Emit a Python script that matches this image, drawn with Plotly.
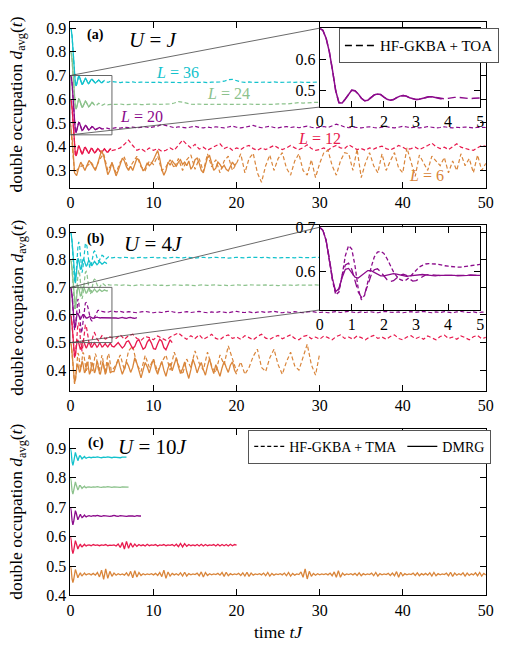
import numpy as np
import plotly.graph_objects as go

W, H = 509, 660
FONT = "Liberation Serif"

# ---------------- colours per system size ----------------
sizes = [36, 24, 20, 12, 6]
colors = {36: "#12c2cc", 24: "#8cc28c", 20: "#8b0a8b", 12: "#e8194d", 6: "#d9853a"}

# ================= panel (a): U = J =================
# early transient sampled every 0.1 (t = 0 ... 5), late part every 0.5 (t = 5.5 ...)
a_dt_early, a_dt_late = 0.1, 0.5
a_early = {
    36: [0.900, 0.893, 0.866, 0.822, 0.762, 0.700, 0.662, 0.656, 0.668, 0.688, 0.698, 0.694, 0.682, 0.668, 0.662, 0.666, 0.676,
         0.686, 0.688, 0.684, 0.675, 0.668, 0.666, 0.670, 0.677, 0.683, 0.684, 0.680, 0.674, 0.669, 0.668, 0.671, 0.676, 0.680,
         0.681, 0.678, 0.673, 0.670, 0.670, 0.673, 0.677, 0.679, 0.678, 0.675, 0.672, 0.671, 0.672, 0.675, 0.677, 0.677, 0.675],
    24: [0.800, 0.793, 0.767, 0.723, 0.664, 0.603, 0.565, 0.558, 0.570, 0.590, 0.601, 0.598, 0.586, 0.572, 0.565, 0.569, 0.579,
         0.589, 0.592, 0.588, 0.579, 0.571, 0.568, 0.571, 0.578, 0.585, 0.587, 0.584, 0.578, 0.573, 0.571, 0.573, 0.578, 0.582,
         0.583, 0.581, 0.577, 0.574, 0.574, 0.576, 0.579, 0.581, 0.581, 0.579, 0.577, 0.576, 0.577, 0.578, 0.580, 0.580, 0.579],
    20: [0.700, 0.693, 0.668, 0.625, 0.565, 0.500, 0.462, 0.461, 0.474, 0.490, 0.502, 0.500, 0.490, 0.476, 0.468, 0.470, 0.478,
         0.487, 0.490, 0.488, 0.480, 0.473, 0.470, 0.472, 0.478, 0.483, 0.485, 0.483, 0.478, 0.474, 0.472, 0.473, 0.476, 0.479,
         0.481, 0.481, 0.479, 0.476, 0.474, 0.474, 0.476, 0.478, 0.479, 0.479, 0.478, 0.476, 0.475, 0.475, 0.476, 0.477, 0.477],
    12: [0.600, 0.592, 0.565, 0.520, 0.460, 0.400, 0.366, 0.362, 0.376, 0.396, 0.404, 0.398, 0.384, 0.372, 0.368, 0.374, 0.386,
         0.396, 0.397, 0.390, 0.380, 0.373, 0.372, 0.378, 0.387, 0.393, 0.392, 0.386, 0.378, 0.374, 0.376, 0.382, 0.389, 0.392,
         0.389, 0.383, 0.377, 0.375, 0.378, 0.384, 0.390, 0.391, 0.387, 0.381, 0.377, 0.377, 0.381, 0.387, 0.391, 0.389, 0.384],
}
a_late = {
    36: [0.672, 0.670, 0.673, 0.671, 0.673, 0.670, 0.672, 0.671, 0.673, 0.671, 0.672, 0.670, 0.672, 0.671, 0.673, 0.671, 0.670,
         0.672, 0.671, 0.673, 0.671, 0.672, 0.670, 0.672, 0.671, 0.673, 0.676, 0.682, 0.684, 0.678, 0.673, 0.671, 0.673, 0.671,
         0.672, 0.670, 0.672, 0.671, 0.673, 0.671, 0.672, 0.670, 0.672, 0.671, 0.673, 0.671, 0.672, 0.671, 0.673, 0.672],
    24: [0.578, 0.580, 0.577, 0.579, 0.578, 0.580, 0.577, 0.579, 0.578, 0.580, 0.578, 0.579, 0.577, 0.580, 0.584, 0.590, 0.588,
         0.582, 0.579, 0.578, 0.580, 0.578, 0.579, 0.577, 0.579, 0.578, 0.580, 0.578, 0.579, 0.577, 0.579, 0.578, 0.580, 0.578,
         0.579, 0.581, 0.579, 0.578, 0.580, 0.579, 0.581, 0.580, 0.582, 0.584, 0.586, 0.584, 0.586, 0.585, 0.587, 0.586],
    20: [0.480, 0.478, 0.482, 0.480, 0.483, 0.479, 0.481, 0.484, 0.480, 0.483, 0.487, 0.494, 0.490, 0.483, 0.480, 0.484, 0.481,
         0.479, 0.483, 0.486, 0.481, 0.479, 0.483, 0.480, 0.484, 0.481, 0.479, 0.483, 0.487, 0.482, 0.479, 0.482, 0.486, 0.490,
         0.484, 0.480, 0.483, 0.486, 0.481, 0.479, 0.483, 0.485, 0.481, 0.484, 0.480, 0.483, 0.487, 0.482, 0.479, 0.482, 0.485,
         0.481, 0.488, 0.495, 0.490, 0.483, 0.480, 0.483, 0.481, 0.479, 0.482, 0.484, 0.481, 0.479, 0.482, 0.485, 0.481, 0.479,
         0.482, 0.486, 0.483, 0.480, 0.482, 0.479, 0.481, 0.485, 0.482, 0.479, 0.481, 0.484, 0.481, 0.479, 0.482, 0.480, 0.483,
         0.481, 0.479, 0.482, 0.480, 0.481],
    12: [0.388, 0.395, 0.410, 0.428, 0.405, 0.385, 0.392, 0.380, 0.395, 0.385, 0.392, 0.380, 0.385, 0.395, 0.385, 0.405, 0.428,
         0.410, 0.395, 0.410, 0.390, 0.398, 0.385, 0.395, 0.405, 0.412, 0.392, 0.400, 0.385, 0.395, 0.388, 0.400, 0.405, 0.392,
         0.385, 0.395, 0.388, 0.398, 0.405, 0.395, 0.388, 0.395, 0.405, 0.395, 0.388, 0.396, 0.408, 0.392, 0.385, 0.388, 0.395,
         0.385, 0.398, 0.405, 0.395, 0.392, 0.408, 0.398, 0.388, 0.392, 0.385, 0.395, 0.390, 0.398, 0.402, 0.392, 0.386, 0.395,
         0.405, 0.398, 0.388, 0.392, 0.398, 0.388, 0.395, 0.405, 0.415, 0.400, 0.392, 0.398, 0.388, 0.402, 0.412, 0.398, 0.392,
         0.388, 0.385, 0.395, 0.405, 0.402],
}
a_dmrg_end = {36: 4.0, 24: 2.8, 20: 3.8, 12: 4.9}
# L = 6: DMRG (dt 0.25, t = 0..20) and HF-GKBA (dt 0.5, t = 0..50)
a_L6_dmrg_dt = 0.25
a_L6_dmrg = [0.500, 0.420, 0.290, 0.278, 0.310, 0.335, 0.318, 0.300, 0.322, 0.342, 0.330, 0.312, 0.300, 0.325, 0.360, 0.384,
             0.362, 0.315, 0.282, 0.300, 0.335, 0.305, 0.277, 0.300, 0.330, 0.352, 0.340, 0.315, 0.300, 0.318, 0.300, 0.325,
             0.350, 0.345, 0.318, 0.298, 0.310, 0.332, 0.320, 0.330, 0.345, 0.365, 0.384, 0.350, 0.305, 0.280, 0.300, 0.335,
             0.322, 0.340, 0.328, 0.318, 0.335, 0.345, 0.325, 0.335, 0.320, 0.340, 0.305, 0.318, 0.345, 0.352, 0.330, 0.300,
             0.290, 0.320, 0.355, 0.362, 0.330, 0.300, 0.310, 0.335, 0.325, 0.310, 0.322, 0.305, 0.298, 0.318, 0.335, 0.322, 0.330]
a_L6_hf_dt = 0.5
a_L6_hf = [0.500, 0.290, 0.310, 0.322, 0.318, 0.335, 0.305, 0.345, 0.370, 0.300, 0.330, 0.290, 0.335, 0.355, 0.305, 0.330,
           0.360, 0.315, 0.300, 0.340, 0.325, 0.360, 0.300, 0.315, 0.345, 0.310, 0.350, 0.300, 0.345, 0.365, 0.305, 0.350,
           0.295, 0.370, 0.315, 0.345, 0.290, 0.340, 0.360, 0.300, 0.330, 0.370, 0.290, 0.350, 0.372, 0.290, 0.250, 0.320,
           0.365, 0.300, 0.350, 0.375, 0.310, 0.280, 0.340, 0.370, 0.300, 0.280, 0.345, 0.270, 0.330, 0.375, 0.385, 0.320,
           0.280, 0.340, 0.375, 0.370, 0.300, 0.390, 0.270, 0.330, 0.375, 0.320, 0.290, 0.370, 0.300, 0.340, 0.375, 0.310,
           0.290, 0.395, 0.330, 0.275, 0.365, 0.330, 0.300, 0.360, 0.340, 0.320, 0.355, 0.290, 0.340, 0.300, 0.370, 0.320,
           0.350, 0.290, 0.365, 0.300, 0.330]

# ================= panel (b): U = 4J =================
b_dt_early, b_dt_late = 0.1, 0.5
b_hf_early = {
    36: [0.900, 0.892, 0.866, 0.820, 0.762, 0.718, 0.715, 0.748, 0.800, 0.845, 0.865, 0.855, 0.815, 0.770, 0.753, 0.768, 0.805,
         0.840, 0.858, 0.860, 0.848, 0.822, 0.795, 0.775, 0.770, 0.778, 0.795, 0.815, 0.828, 0.832, 0.828, 0.818, 0.806, 0.798,
         0.795, 0.798, 0.805, 0.812, 0.816, 0.815, 0.811, 0.806, 0.803, 0.803, 0.806, 0.809, 0.811, 0.810, 0.808, 0.806, 0.807],
    24: [0.800, 0.792, 0.767, 0.722, 0.666, 0.624, 0.622, 0.652, 0.700, 0.742, 0.762, 0.754, 0.718, 0.676, 0.658, 0.670, 0.703,
         0.736, 0.755, 0.758, 0.747, 0.724, 0.700, 0.682, 0.676, 0.682, 0.697, 0.714, 0.726, 0.730, 0.727, 0.718, 0.708, 0.700,
         0.697, 0.699, 0.705, 0.711, 0.715, 0.714, 0.711, 0.707, 0.704, 0.704, 0.706, 0.709, 0.710, 0.709, 0.708, 0.707, 0.708],
    20: [0.700, 0.693, 0.670, 0.628, 0.578, 0.546, 0.552, 0.590, 0.635, 0.658, 0.650, 0.612, 0.560, 0.534, 0.545, 0.575, 0.608,
         0.632, 0.643, 0.645, 0.640, 0.628, 0.612, 0.598, 0.588, 0.581, 0.578, 0.580, 0.586, 0.594, 0.602, 0.609, 0.613, 0.616,
         0.617, 0.617, 0.616, 0.615, 0.613, 0.612, 0.611, 0.610, 0.609, 0.609, 0.609, 0.610, 0.611, 0.612, 0.613, 0.614, 0.615],
    12: [0.600, 0.592, 0.566, 0.522, 0.472, 0.445, 0.452, 0.490, 0.535, 0.565, 0.572, 0.555, 0.512, 0.475, 0.468, 0.488, 0.522,
         0.550, 0.563, 0.562, 0.548, 0.526, 0.505, 0.492, 0.488, 0.494, 0.508, 0.523, 0.533, 0.536, 0.531, 0.522, 0.513, 0.507,
         0.506, 0.510, 0.516, 0.522, 0.525, 0.523, 0.519, 0.515, 0.513, 0.514, 0.517, 0.520, 0.522, 0.521, 0.519, 0.517, 0.518],
    6: [0.500, 0.490, 0.462, 0.418, 0.372, 0.350, 0.362, 0.400, 0.440, 0.462, 0.455, 0.428, 0.405, 0.410, 0.440, 0.465, 0.460,
        0.435, 0.410, 0.398, 0.405, 0.430, 0.452, 0.458, 0.440, 0.415, 0.398, 0.400, 0.420, 0.445, 0.460, 0.452, 0.428, 0.405,
        0.395, 0.402, 0.425, 0.448, 0.455, 0.440, 0.415, 0.398, 0.395, 0.410, 0.435, 0.455, 0.460, 0.445, 0.420, 0.400, 0.398],
}
b_hf_late = {
    36: [0.809, 0.807, 0.809, 0.808, 0.806, 0.808, 0.809, 0.807, 0.808, 0.809, 0.807, 0.808, 0.806, 0.808, 0.809, 0.808, 0.807,
         0.809, 0.808, 0.806, 0.808, 0.809, 0.807, 0.808, 0.809, 0.807, 0.808, 0.806, 0.808, 0.809, 0.808, 0.807, 0.809, 0.808,
         0.807, 0.808, 0.809, 0.807, 0.808, 0.806, 0.808, 0.809, 0.808, 0.807, 0.809, 0.808, 0.807, 0.808, 0.809, 0.808],
    24: [0.709, 0.707, 0.709, 0.708, 0.706, 0.708, 0.709, 0.707, 0.708, 0.709, 0.707, 0.708, 0.706, 0.708, 0.709, 0.708, 0.707,
         0.709, 0.708, 0.706, 0.708, 0.709, 0.707, 0.708, 0.709, 0.707, 0.708, 0.706, 0.708, 0.709, 0.708, 0.707, 0.709, 0.708,
         0.707, 0.708, 0.709, 0.707, 0.708, 0.706, 0.708, 0.709, 0.708, 0.707, 0.709, 0.708, 0.707, 0.708, 0.709, 0.708],
    20: [0.611, 0.613, 0.609, 0.612, 0.610, 0.608, 0.611, 0.613, 0.610, 0.608, 0.611, 0.609, 0.612, 0.614, 0.610, 0.608, 0.610,
         0.612, 0.609, 0.611, 0.613, 0.610, 0.608, 0.611, 0.609, 0.612, 0.610, 0.608, 0.611, 0.613, 0.610, 0.609, 0.611, 0.608,
         0.610, 0.612, 0.609, 0.611, 0.613, 0.610, 0.608, 0.611, 0.609, 0.612, 0.610, 0.608, 0.611, 0.613, 0.610, 0.609, 0.611,
         0.608, 0.610, 0.612, 0.609, 0.611, 0.613, 0.610, 0.608, 0.611, 0.609, 0.612, 0.610, 0.608, 0.611, 0.613, 0.610, 0.609,
         0.611, 0.608, 0.610, 0.612, 0.609, 0.611, 0.613, 0.610, 0.608, 0.611, 0.609, 0.612, 0.610, 0.608, 0.611, 0.613, 0.610,
         0.609, 0.611, 0.608, 0.610, 0.611],
    12: [0.515, 0.528, 0.512, 0.525, 0.530, 0.515, 0.508, 0.522, 0.518, 0.510, 0.524, 0.515, 0.508, 0.520, 0.528, 0.535, 0.522,
         0.512, 0.525, 0.515, 0.528, 0.512, 0.520, 0.530, 0.515, 0.510, 0.522, 0.528, 0.515, 0.520, 0.512, 0.525, 0.518, 0.510,
         0.522, 0.530, 0.516, 0.512, 0.520, 0.526, 0.514, 0.520, 0.528, 0.515, 0.510, 0.522, 0.526, 0.514, 0.520, 0.512, 0.524,
         0.518, 0.510, 0.522, 0.528, 0.515, 0.520, 0.512, 0.524, 0.518, 0.510, 0.520, 0.526, 0.515, 0.520, 0.512, 0.522, 0.528,
         0.515, 0.510, 0.520, 0.525, 0.514, 0.520, 0.512, 0.524, 0.518, 0.510, 0.522, 0.527, 0.515, 0.520, 0.512, 0.524, 0.518,
         0.510, 0.521, 0.526, 0.514, 0.519],
    6: [0.420, 0.455, 0.400, 0.470, 0.488, 0.420, 0.395, 0.453, 0.410, 0.440, 0.395, 0.430, 0.455, 0.400, 0.465, 0.420, 0.385,
        0.440, 0.410, 0.470, 0.425, 0.400, 0.465, 0.415, 0.392, 0.455, 0.420, 0.488, 0.440, 0.395, 0.430, 0.385, 0.410, 0.450,
        0.476, 0.410, 0.395, 0.445, 0.476, 0.420, 0.385, 0.430, 0.465, 0.415, 0.400, 0.445, 0.494, 0.420, 0.382, 0.460],
}
b_dmrg_early = {
    36: [0.900, 0.892, 0.866, 0.822, 0.768, 0.722, 0.715, 0.745, 0.785, 0.805, 0.800, 0.780, 0.765, 0.768, 0.785, 0.800, 0.803,
         0.795, 0.782, 0.776, 0.780, 0.790, 0.797, 0.795, 0.787, 0.780, 0.779, 0.785, 0.792, 0.794, 0.790, 0.784, 0.782, 0.785,
         0.790, 0.793, 0.791, 0.786, 0.784, 0.786, 0.790, 0.792, 0.790, 0.787, 0.786],
    24: [0.800, 0.792, 0.767, 0.724, 0.671, 0.628, 0.622, 0.650, 0.687, 0.705, 0.700, 0.682, 0.668, 0.671, 0.686, 0.700, 0.702,
         0.694, 0.683, 0.678, 0.682, 0.691, 0.697, 0.695, 0.688, 0.682, 0.681, 0.686, 0.692, 0.694, 0.690, 0.685, 0.683, 0.686,
         0.690, 0.692, 0.690, 0.686, 0.685, 0.687, 0.690, 0.691, 0.689, 0.687, 0.687, 0.689],
    20: [0.700, 0.693, 0.670, 0.630, 0.582, 0.553, 0.560, 0.585, 0.604, 0.606, 0.596, 0.586, 0.584, 0.590, 0.597, 0.601, 0.601,
         0.597, 0.592, 0.589, 0.589, 0.591, 0.593, 0.594, 0.593, 0.591, 0.589, 0.588, 0.589, 0.590, 0.591, 0.592, 0.592, 0.591,
         0.590, 0.589, 0.589, 0.590, 0.590, 0.591, 0.591, 0.590, 0.590, 0.589, 0.589, 0.590, 0.590, 0.591, 0.590, 0.590, 0.590],
    12: [0.600, 0.592, 0.566, 0.524, 0.476, 0.448, 0.455, 0.482, 0.505, 0.510, 0.498, 0.482, 0.475, 0.482, 0.496, 0.506, 0.504,
         0.494, 0.484, 0.480, 0.485, 0.495, 0.501, 0.498, 0.490, 0.484, 0.484, 0.490, 0.497, 0.499, 0.494, 0.487, 0.483, 0.486,
         0.493, 0.498, 0.496, 0.489, 0.484, 0.485, 0.491, 0.497, 0.497, 0.491, 0.485, 0.484, 0.489, 0.496, 0.498, 0.493, 0.487],
    6: [0.500, 0.490, 0.462, 0.420, 0.378, 0.355, 0.365, 0.395, 0.418, 0.420, 0.405, 0.392, 0.398, 0.418, 0.432, 0.425, 0.405,
        0.390, 0.395, 0.415, 0.430, 0.422, 0.400, 0.385, 0.392, 0.412, 0.428, 0.420, 0.402, 0.390, 0.398, 0.418, 0.432, 0.425,
        0.405, 0.388, 0.385, 0.400, 0.420, 0.430, 0.418, 0.398, 0.385, 0.392, 0.412, 0.428, 0.422, 0.404, 0.390, 0.393, 0.395],
}
# DMRG continuation after t = 5 (dt 0.25, starting t = 5.25)
b_dmrg_dt_late = 0.25
b_dmrg_late = {
    20: [0.590, 0.589, 0.588, 0.590, 0.591, 0.589, 0.588, 0.590, 0.591, 0.589, 0.588, 0.590],
    12: [0.484, 0.494, 0.500, 0.490, 0.480, 0.488, 0.503, 0.506, 0.492, 0.478, 0.486, 0.505, 0.510, 0.494, 0.476, 0.482, 0.502,
         0.512, 0.498, 0.478, 0.476, 0.496, 0.512, 0.505, 0.482, 0.474, 0.492, 0.510, 0.500],
    6: [0.395, 0.420, 0.440, 0.410, 0.385, 0.405, 0.430, 0.415, 0.392, 0.410, 0.445, 0.425, 0.395, 0.372, 0.400, 0.428, 0.412,
        0.390, 0.418, 0.440, 0.405, 0.385, 0.410, 0.432, 0.400, 0.378, 0.408, 0.425, 0.398, 0.420, 0.445, 0.412, 0.388, 0.405,
        0.430, 0.395, 0.370, 0.402, 0.440, 0.418, 0.390, 0.412, 0.428, 0.402, 0.382, 0.415, 0.442, 0.410, 0.388, 0.420, 0.400,
        0.378, 0.408, 0.432, 0.410, 0.392, 0.418, 0.430, 0.400, 0.385],
}
# HF-GKBA + TOA (inset of panel b, L = 20)
b_toa_L20 = [0.700, 0.693, 0.670, 0.630, 0.580, 0.550, 0.558, 0.590, 0.614, 0.618, 0.604, 0.578, 0.552, 0.540, 0.548, 0.568,
             0.590, 0.603, 0.605, 0.598, 0.588, 0.580, 0.576, 0.578, 0.584, 0.590, 0.593, 0.590, 0.582, 0.577, 0.578, 0.583,
             0.588, 0.591, 0.592, 0.591, 0.590, 0.589, 0.589, 0.590, 0.590, 0.591, 0.591, 0.590, 0.590, 0.590, 0.590, 0.590,
             0.590, 0.590, 0.590]

# ================= panel (c): U = 10J (DMRG) =================
c_dt_early, c_dt_late = 0.1, 0.25   # early t = 0..2, late from t = 2.25
c_early = {
    36: [0.900, 0.885, 0.855, 0.842, 0.855, 0.878, 0.886, 0.876, 0.860, 0.858, 0.866, 0.874, 0.874, 0.867, 0.864, 0.867, 0.872,
         0.872, 0.868, 0.866, 0.868],
    24: [0.800, 0.786, 0.756, 0.744, 0.757, 0.778, 0.786, 0.776, 0.760, 0.758, 0.765, 0.773, 0.773, 0.766, 0.764, 0.767, 0.771,
         0.771, 0.767, 0.766, 0.768],
    20: [0.700, 0.686, 0.655, 0.640, 0.652, 0.676, 0.688, 0.680, 0.662, 0.657, 0.664, 0.674, 0.676, 0.669, 0.665, 0.667, 0.672,
         0.673, 0.669, 0.667, 0.669],
    12: [0.600, 0.586, 0.556, 0.542, 0.553, 0.576, 0.586, 0.578, 0.562, 0.558, 0.565, 0.574, 0.575, 0.568, 0.565, 0.568, 0.573,
         0.574, 0.570, 0.568, 0.570],
    6: [0.500, 0.486, 0.456, 0.444, 0.455, 0.478, 0.488, 0.480, 0.464, 0.460, 0.467, 0.476, 0.477, 0.470, 0.467, 0.470, 0.475,
        0.476, 0.472, 0.470, 0.472],
}
c_late = {
    36: [0.870, 0.868, 0.870, 0.869, 0.871, 0.869, 0.868, 0.870, 0.869, 0.871, 0.869, 0.868, 0.870, 0.869, 0.870, 0.868, 0.870,
         0.869, 0.870],
    24: [0.769, 0.767, 0.769, 0.768, 0.770, 0.768, 0.767, 0.769, 0.768, 0.770, 0.768, 0.767, 0.769, 0.768, 0.769, 0.767, 0.769,
         0.768, 0.769, 0.768],
    20: [0.671, 0.669, 0.671, 0.670, 0.672, 0.670, 0.669, 0.671, 0.670, 0.671, 0.669, 0.670, 0.672, 0.670, 0.669, 0.671, 0.670,
         0.671, 0.669, 0.670, 0.671, 0.670, 0.669, 0.671, 0.670, 0.670],
    12: [0.572, 0.569, 0.573, 0.570, 0.572, 0.569, 0.572, 0.570, 0.573, 0.569, 0.571, 0.570, 0.572, 0.568, 0.575, 0.563, 0.580,
         0.558, 0.584, 0.560, 0.578, 0.564, 0.575, 0.567, 0.573, 0.569, 0.572, 0.568, 0.574, 0.569, 0.572, 0.570, 0.573, 0.568,
         0.572, 0.570, 0.573, 0.569, 0.572, 0.570, 0.573, 0.568, 0.574, 0.566, 0.577, 0.565, 0.576, 0.567, 0.573, 0.569, 0.572,
         0.569, 0.573, 0.568, 0.574, 0.568, 0.573, 0.569, 0.572, 0.570, 0.573, 0.568, 0.574, 0.568, 0.573, 0.569, 0.573, 0.568,
         0.574, 0.569, 0.573, 0.571],
    6: [0.474, 0.470, 0.475, 0.469, 0.478, 0.463, 0.486, 0.455, 0.490, 0.458, 0.482, 0.465, 0.476, 0.469, 0.474, 0.470,
        0.473, 0.469, 0.477, 0.466, 0.482, 0.460, 0.484, 0.463, 0.478, 0.468, 0.474, 0.470, 0.473, 0.471, 0.474, 0.470,
        0.475, 0.468, 0.478, 0.464, 0.486, 0.458, 0.480, 0.466, 0.475, 0.470, 0.474, 0.469, 0.477, 0.466, 0.479, 0.466,
        0.474, 0.470, 0.473, 0.471, 0.476, 0.467, 0.480, 0.463, 0.478, 0.468, 0.474, 0.470, 0.473, 0.471, 0.475, 0.469,
        0.478, 0.465, 0.479, 0.467, 0.474, 0.470, 0.473, 0.471, 0.475, 0.468, 0.477, 0.466, 0.479, 0.465, 0.476, 0.469,
        0.473, 0.471, 0.474, 0.470, 0.476, 0.467, 0.478, 0.466, 0.475, 0.469, 0.473, 0.471, 0.474, 0.470, 0.476, 0.467,
        0.478, 0.466, 0.475, 0.469, 0.473, 0.471, 0.480, 0.462, 0.490, 0.456, 0.482, 0.465, 0.475, 0.469, 0.474, 0.470,
        0.473, 0.471, 0.474, 0.470, 0.476, 0.467, 0.480, 0.462, 0.484, 0.462, 0.476, 0.469, 0.473, 0.471, 0.474, 0.470,
        0.475, 0.468, 0.477, 0.467, 0.474, 0.470, 0.473, 0.471, 0.476, 0.467, 0.478, 0.466, 0.474, 0.470, 0.473, 0.471,
        0.475, 0.468, 0.476, 0.467, 0.481, 0.462, 0.479, 0.467, 0.474, 0.470, 0.473, 0.471, 0.476, 0.468, 0.477, 0.467,
        0.474, 0.470, 0.475, 0.469, 0.477, 0.466, 0.478, 0.467, 0.474, 0.470, 0.473, 0.471, 0.476, 0.467, 0.479, 0.465,
        0.476, 0.469, 0.474, 0.470, 0.477, 0.466, 0.476, 0.468, 0.474, 0.470, 0.477, 0.467, 0.478, 0.466, 0.475, 0.470],
}

# labels
a_size_labels = {36: (12.9, 0.714), 24: (19.0, 0.624), 20: (8.5, 0.526), 12: (30.0, 0.436), 6: (42.9, 0.277)}
panel_tags = ["(a)", "(b)", "(c)"]
panel_U = ["<i>U</i> = <i>J</i>", "<i>U</i> = 4<i>J</i>", "<i>U</i> = 10<i>J</i>"]
xticks = [0, 10, 20, 30, 40, 50]

# ---------------- layout geometry (pixels) ----------------
def px_x(a, b):
    return [a / W, b / W]

def px_y(top, bottom):
    return [1 - bottom / H, 1 - top / H]

PANEL_TOP = [14, 223, 432]
XD = px_x(68, 493.5)
YD = [px_y(14, 185), px_y(223, 393), px_y(432, 603)]
YR = [[0.225, 0.927], [0.325, 0.925], [0.4, 0.966]]
YT = [[0.3, 0.4, 0.5, 0.6, 0.7, 0.8, 0.9], [0.4, 0.5, 0.6, 0.7, 0.8, 0.9], [0.4, 0.5, 0.6, 0.7, 0.8, 0.9]]
IXD = px_x(323.3, 487.7)
IYD = [px_y(20.7, 101.7), px_y(225, 310)]
IYR = [[0.448, 0.700], [0.511, 0.700]]
IYT = [[0.5, 0.6], [0.6, 0.7]]
ZOOMBOX = [[0.45, 0.70], [0.50, 0.70]]

DASH = "4px,2.5px"
LDASH = "8px,4px"


def grid(n, t0, dt):
    return t0 + dt * np.arange(n)


fig = go.Figure()


def add(x, y, color, dash, xa, ya, width=1.2, **kw):
    fig.add_trace(go.Scatter(x=list(x), y=list(y), mode="lines", xaxis=xa, yaxis=ya,
                             line=dict(color=color, width=width, dash=dash),
                             showlegend=False, hoverinfo="skip", **kw))

# ---- panel (a)
for L in [36, 24, 20, 12]:
    te = grid(len(a_early[L]), 0.0, a_dt_early)
    tl = grid(len(a_late[L]), 5.5, a_dt_late)
    add(np.concatenate([te, tl]), a_early[L] + a_late[L], colors[L], DASH, "x", "y")
t6h = grid(len(a_L6_hf), 0.0, a_L6_hf_dt)
add(t6h, a_L6_hf, colors[6], DASH, "x", "y")
for L in [36, 24, 20, 12]:
    te = grid(len(a_early[L]), 0.0, a_dt_early)
    m = te <= a_dmrg_end[L] + 1e-9
    add(te[m], np.array(a_early[L])[m], colors[L], "solid", "x", "y", width=1.3)
add(grid(len(a_L6_dmrg), 0.0, a_L6_dmrg_dt), a_L6_dmrg, colors[6], "solid", "x", "y", width=1.3)

# ---- panel (b)
for L in sizes:
    te = grid(len(b_hf_early[L]), 0.0, b_dt_early)
    tl = grid(len(b_hf_late[L]), 5.5, b_dt_late)
    add(np.concatenate([te, tl]), b_hf_early[L] + b_hf_late[L], colors[L], DASH, "x2", "y2")
for L in sizes:
    te = grid(len(b_dmrg_early[L]), 0.0, b_dt_early)
    vals = list(b_dmrg_early[L])
    tt = list(te)
    if L in b_dmrg_late:
        tt += list(grid(len(b_dmrg_late[L]), 5.25, b_dmrg_dt_late))
        vals += b_dmrg_late[L]
    add(tt, vals, colors[L], "solid", "x2", "y2", width=1.3)

# ---- panel (c)
for L in sizes:
    te = grid(len(c_early[L]), 0.0, c_dt_early)
    tl = grid(len(c_late[L]), 2.25, c_dt_late)
    add(np.concatenate([te, tl]), c_early[L] + c_late[L], colors[L], "solid", "x3", "y3", width=1.3)

# ---- inset (a): L = 20
te = grid(len(a_early[20]), 0.0, a_dt_early)
m = te <= a_dmrg_end[20] + 1e-9
add(te, a_early[20], colors[20], LDASH, "x4", "y4", width=1.4)
add(te[m], np.array(a_early[20])[m], colors[20], "solid", "x4", "y4", width=1.5)

# ---- inset (b): L = 20
add(te, b_hf_early[20], colors[20], DASH, "x5", "y5", width=1.3)
add(grid(len(b_toa_L20), 0.0, b_dt_early), b_toa_L20, colors[20], LDASH, "x5", "y5", width=1.3)
add(te, b_dmrg_early[20], colors[20], "solid", "x5", "y5", width=1.3)

# ---- legend entries
fig.add_trace(go.Scatter(x=[None], y=[None], mode="lines", xaxis="x4", yaxis="y4", name="HF-GKBA + TOA",
                         line=dict(color="black", width=1.5, dash="7px,4px"), legend="legend"))
fig.add_trace(go.Scatter(x=[None], y=[None], mode="lines", xaxis="x3", yaxis="y3", name="HF-GKBA + TMA",
                         line=dict(color="black", width=1.3, dash="4px,2.5px"), legend="legend2"))
fig.add_trace(go.Scatter(x=[None], y=[None], mode="lines", xaxis="x3", yaxis="y3", name="DMRG",
                         line=dict(color="black", width=1.3), legend="legend2"))

tickfont = dict(family=FONT, size=16, color="black")
common = dict(showline=True, linecolor="black", linewidth=1, mirror="ticks", ticks="inside", ticklen=6,
              tickcolor="black", showgrid=False, zeroline=False, tickfont=tickfont)

layout = dict(width=W, height=H, margin=dict(l=0, r=0, t=0, b=0), paper_bgcolor="white", plot_bgcolor="white",
              font=dict(family=FONT, size=16, color="black"))
for i, ax in enumerate(["", "2", "3"]):
    layout["xaxis" + ax] = dict(domain=XD, range=[0, 50], anchor="y" + ax, tickvals=xticks, **common)
    layout["yaxis" + ax] = dict(domain=YD[i], range=YR[i], anchor="x" + ax, tickvals=YT[i],
                                ticktext=[f"{v:.1f}" for v in YT[i]], **common)
for j, ax in enumerate(["4", "5"]):
    layout["xaxis" + ax] = dict(domain=IXD, range=[0, 5], anchor="y" + ax, tickvals=[0, 1, 2, 3, 4, 5], **common)
    layout["yaxis" + ax] = dict(domain=IYD[j], range=IYR[j], anchor="x" + ax, tickvals=IYT[j],
                                ticktext=[f"{v:.1f}" for v in IYT[j]], **common)

layout["legend"] = dict(x=343 / W, y=1 - 20.7 / H, xanchor="left", yanchor="top", bgcolor="white",
                        bordercolor="#555", borderwidth=1, font=dict(family=FONT, size=15),
                        itemwidth=30, tracegroupgap=0)
layout["legend2"] = dict(x=499 / W, y=1 - 433 / H, xanchor="right", yanchor="top", orientation="h",
                         bgcolor="white", bordercolor="#555", borderwidth=1, font=dict(family=FONT, size=14),
                         itemwidth=30)
fig.update_layout(**layout)

# ---- zoom boxes and connectors
shapes = []
for k, (xa, ya) in enumerate([("x", "y"), ("x2", "y2")]):
    b0, b1 = ZOOMBOX[k]
    shapes.append(dict(type="rect", xref=xa, yref=ya, x0=0, x1=5, y0=b0, y1=b1,
                       line=dict(color="#666", width=1)))
    yd, yr = YD[k], YR[k]

    def py(v):
        return yd[0] + (v - yr[0]) / (yr[1] - yr[0]) * (yd[1] - yd[0])
    shapes.append(dict(type="line", xref="paper", yref="paper", x0=XD[0], y0=py(b1), x1=IXD[0], y1=IYD[k][1],
                       line=dict(color="#444", width=0.8)))
    shapes.append(dict(type="line", xref="paper", yref="paper", x0=XD[0], y0=py(b0), x1=IXD[0], y1=IYD[k][0],
                       line=dict(color="#444", width=0.8)))
fig.update_layout(shapes=shapes)

# ---- annotations
ann = []
for i, ax in enumerate(["", "2", "3"]):
    yd = YD[i]
    ann.append(dict(text="double occupation <i>d</i><sub>avg</sub>(<i>t</i>)", xref="paper", yref="paper",
                    x=14 / W, y=(yd[0] + yd[1]) / 2, textangle=-90, showarrow=False,
                    xanchor="center", yanchor="middle", font=dict(family=FONT, size=17.5)))
    top = PANEL_TOP[i]
    ann.append(dict(text="<b>" + panel_tags[i] + "</b>", xref="paper", yref="paper", x=94 / W,
                    y=1 - (top + 14) / H, showarrow=False, xanchor="center", yanchor="middle",
                    font=dict(family=FONT, size=14)))
    ann.append(dict(text=panel_U[i], xref="paper", yref="paper", x=153 / W, y=1 - (top + 19) / H,
                    showarrow=False, xanchor="center", yanchor="middle", font=dict(family=FONT, size=21)))
for L, (tx, ty) in a_size_labels.items():
    ann.append(dict(text=f"<i>L</i> = {L}", xref="x", yref="y", x=tx, y=ty, showarrow=False,
                    font=dict(family=FONT, size=16, color=colors[L])))
ann.append(dict(text="time <i>tJ</i>", xref="paper", yref="paper", x=(XD[0] + XD[1]) / 2, y=1 - 640 / H,
                showarrow=False, xanchor="center", yanchor="middle", font=dict(family=FONT, size=17.5)))
fig.update_layout(annotations=ann)

fig.write_html("out.html")
